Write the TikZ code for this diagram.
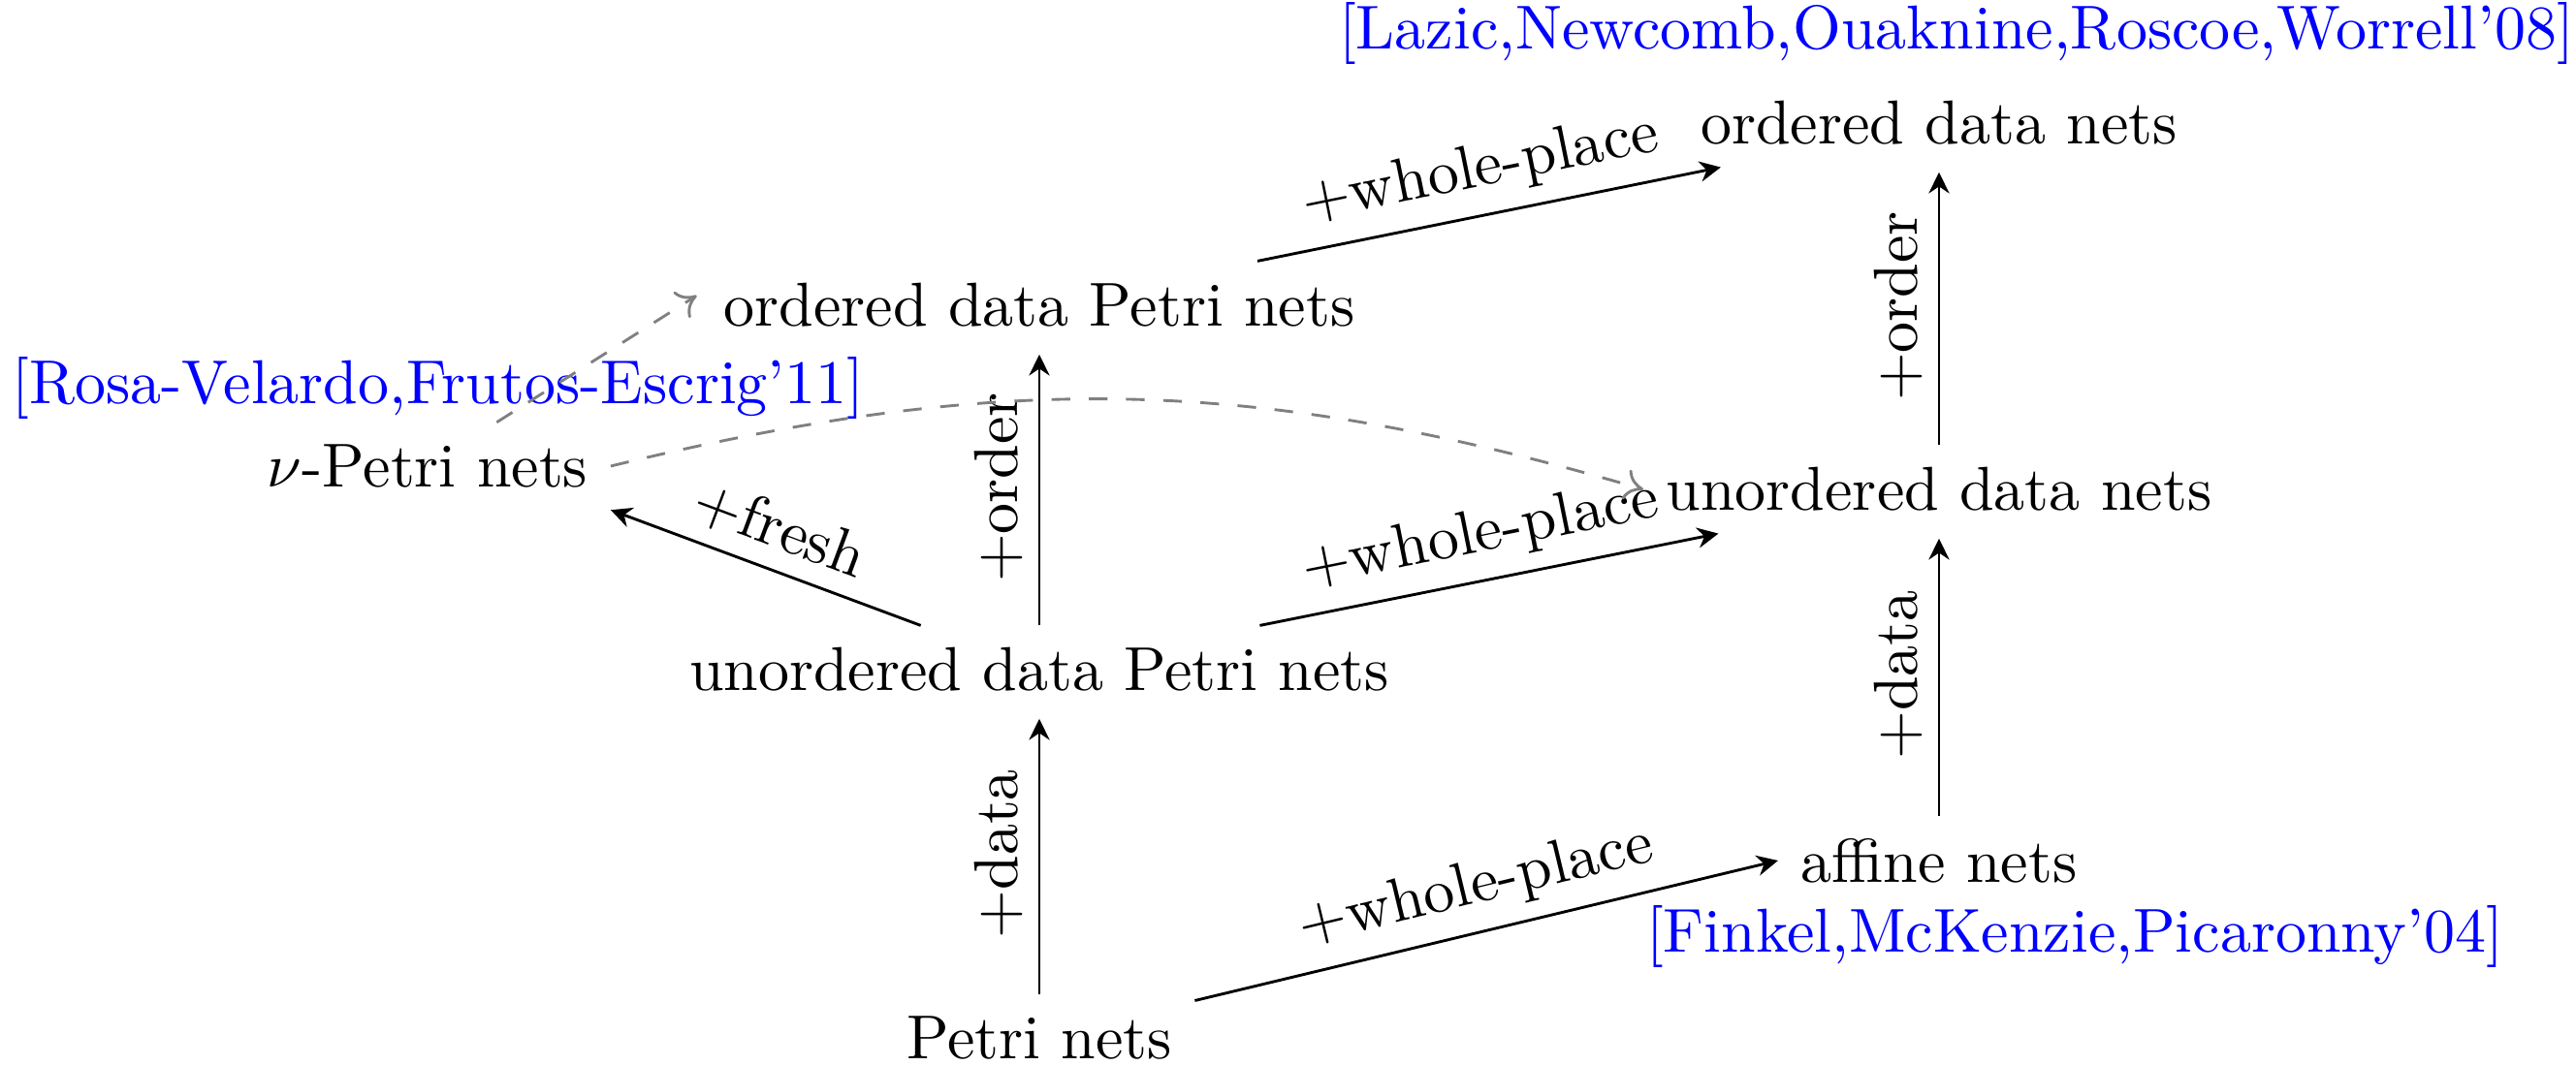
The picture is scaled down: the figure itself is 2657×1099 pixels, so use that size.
\documentclass[tikz,border=0pt]{standalone}
\usetikzlibrary{arrows.meta}
\begin{document}
\begin{tikzpicture}[x=0.15625pt,y=0.15625pt,
  cell/.style={inner xsep=3.5pt, inner ysep=3.4pt},
  arr/.style={-{Stealth[length=3.4pt,width=3.3pt,inset=1.1pt]}, line width=0.45pt},
  varr/.style={arr, shorten >=0.8pt},
  dsh/.style={dashed, draw=gray, -{To[length=3pt,width=5pt]}, line width=0.45pt},
  lab/.style={midway, above, sloped, inner sep=2.5pt},
  ref/.style={text=blue, inner sep=0pt}]
\useasboundingbox (0,0) rectangle (2657,1099);
\node[cell] (odn) at (2000,972) {ordered data nets};
\node[ref] (lazic) at (2018,1065) {[Lazic,Newcomb,Ouaknine,Roscoe,Worrell'08]};
\node[cell] (odpn) at (1072,784) {ordered data Petri nets};
\node[ref] (rosa) at (452,699) {[Rosa-Velardo,Frutos-Escrig'11]};
\node[cell] (nu) at (441,618) {$\nu$-Petri nets};
\node[cell] (udn) at (2000,594) {unordered data nets};
\node[cell] (udpn) at (1072,408) {unordered data Petri nets};
\node[cell] (affine) at (2000,211) {affine nets};
\node[ref] (finkel) at (2140,133) {[Finkel,McKenzie,Picaronny'04]};
\node[cell] (petri) at (1072,28) {Petri nets};
\draw[varr] (petri) -- node[lab]{+data} (udpn);
\draw[varr] (udpn) -- node[lab]{+order} (odpn);
\draw[arr] (udpn) -- node[lab]{+fresh} (nu.south east);
\draw[arr] (udpn) -- node[lab]{+whole-place} (udn);
\draw[arr] (odpn) -- node[lab]{+whole-place} (odn);
\draw[arr] (petri) -- node[lab]{+whole-place} (affine.west);
\draw[varr] (affine) -- node[lab]{+data} (udn);
\draw[varr] (udn) -- node[lab]{+order} (odn);
\draw[dsh, shorten >=0.8pt] (nu) -- ([yshift=2pt]odpn.west);
\draw[dsh] (nu.east) to[bend left=15] (udn.west);
\end{tikzpicture}
\end{document}
